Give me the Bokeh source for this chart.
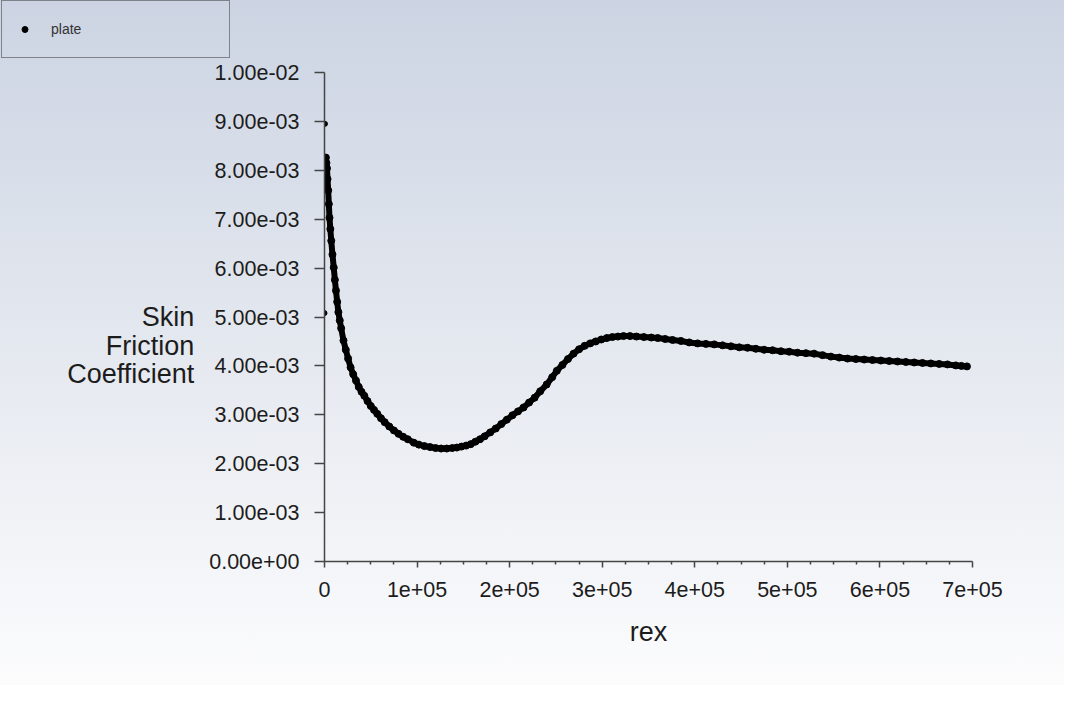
from bokeh.plotting import figure
from bokeh.layouts import column
from bokeh.models import Range1d, FixedTicker, Legend, LegendItem
from bokeh.embed import file_html
from bokeh.resources import INLINE

# ---- data ----
# isolated leading-edge points
edge_rex = [0, 500]
edge_cf = [0.00508, 0.00895]

# main curve: skin friction coefficient vs rex
rex = [1500, 2100, 2700, 3300, 4000, 4700, 5400, 6300, 7300, 8600,
       10000, 11200, 12400, 13700, 15000, 16500, 18000, 20500, 23000, 25500,
       28200, 31000, 34000, 37000, 40000, 43000, 46500, 50000, 53500, 57000,
       61000, 65000, 70000, 75000, 80000, 85000, 90000, 96500, 102000, 108000,
       114000, 120000, 126000, 132000, 138000, 143000, 148000, 153000, 158000, 163000,
       168000, 173000, 179000, 185000, 191000, 197000, 203000, 209000, 215000, 221000,
       227000, 233000, 240000, 246000, 251000, 257000, 263000, 269000, 275000, 281000,
       287000, 293000, 299000, 305000, 311000, 317000, 323000, 330000, 337000, 345000,
       353000, 360000, 368000, 376000, 385000, 394000, 403000, 412000, 421000, 430000,
       439000, 448000, 457000, 466000, 475000, 484000, 493000, 502000, 511000, 520000,
       529000, 538000, 547000, 556000, 565000, 574000, 583000, 592000, 601000, 610000,
       619000, 628000, 637000, 646000, 655000, 664000, 673000, 682000, 688000, 694000]
cf = [0.00826, 0.00815, 0.00804, 0.00782, 0.00759, 0.00731, 0.00703, 0.00680, 0.00656, 0.00628,
      0.00601, 0.00576, 0.00554, 0.00531, 0.00510, 0.00493, 0.00477, 0.00452, 0.00433, 0.00415,
      0.00397, 0.00383, 0.00370, 0.00357, 0.00347, 0.00339, 0.00328, 0.00318, 0.00310, 0.00302,
      0.00293, 0.00285, 0.00276, 0.00268, 0.00261, 0.00255, 0.00250, 0.00243, 0.00239, 0.00236,
      0.00234, 0.00232, 0.00231, 0.00231, 0.00232, 0.00233, 0.00235, 0.00237, 0.00240, 0.00245,
      0.00250, 0.00256, 0.00264, 0.00272, 0.00281, 0.00290, 0.00299, 0.00307, 0.00315, 0.00325,
      0.00335, 0.00348, 0.00362, 0.00377, 0.00390, 0.00402, 0.00414, 0.00425, 0.00434, 0.00441,
      0.00446, 0.00450, 0.00454, 0.00457, 0.00459, 0.00460, 0.00461, 0.00461, 0.00460, 0.00459,
      0.00458, 0.00457, 0.00455, 0.00453, 0.00451, 0.00448, 0.00446, 0.00445, 0.00444, 0.00442,
      0.00440, 0.00438, 0.00437, 0.00435, 0.00433, 0.00432, 0.00430, 0.00429, 0.00427, 0.00426,
      0.00425, 0.00422, 0.00419, 0.00417, 0.00415, 0.00414, 0.00413, 0.00412, 0.00411, 0.00410,
      0.00409, 0.00408, 0.00407, 0.00406, 0.00405, 0.00404, 0.00403, 0.00401, 0.00400, 0.00399]

series_name = "plate"
x_label = "rex"
y_label = "\n\nSkin\nFriction\nCoefficient"

x_ticks = [0, 100000, 200000, 300000, 400000, 500000, 600000, 700000]
x_tick_labels = ["0", "1e+05", "2e+05", "3e+05", "4e+05", "5e+05", "6e+05", "7e+05"]
y_ticks = [0.0, 0.001, 0.002, 0.003, 0.004, 0.005, 0.006, 0.007, 0.008, 0.009, 0.01]
y_tick_labels = ["0.00e+00", "1.00e-03", "2.00e-03", "3.00e-03", "4.00e-03", "5.00e-03",
                 "6.00e-03", "7.00e-03", "8.00e-03", "9.00e-03", "1.00e-02"]

FONT = "Liberation Sans"
INK = "#1c1c1c"
AXIS = "#454545"
W = 1064
LEG_H = 60
MAIN_H = 625

# ---- legend strip (top) ----
lg = figure(width=W, height=LEG_H, output_backend="svg", toolbar_location=None,
            x_range=Range1d(0, 1), y_range=Range1d(0, 1),
            x_axis_type=None, y_axis_type=None, min_border=0)
lg.frame_align = False
lg.background_fill_color = None
lg.border_fill_color = None
lg.outline_line_color = None
lg.grid.visible = False
# key renderer: same data, lies outside this strip's ranges so only its legend key shows
r_key = lg.scatter(rex, cf, size=6, marker="circle", fill_color="black", line_color="black")
legend = Legend(items=[LegendItem(label=series_name, renderers=[r_key])],
                location=(1, 2), margin=0, padding=15,
                glyph_width=15, glyph_height=26, label_height=26, label_width=163,
                label_standoff=19, label_text_font=FONT, label_text_font_size="14px",
                label_text_color="#333333", border_line_color="#2e2e2e", border_line_width=1.5,
                background_fill_alpha=0)
lg.add_layout(legend)

# ---- main plot ----
p = figure(width=W, height=MAIN_H, output_backend="svg", toolbar_location=None,
           x_range=Range1d(0, 700000), y_range=Range1d(0, 0.01),
           min_border_left=324, min_border_right=92, min_border_top=12, min_border_bottom=124)
p.frame_align = False
p.background_fill_color = None
p.border_fill_color = None
p.outline_line_color = None
p.grid.visible = False

p.line(rex, cf, line_color="black", line_width=6)
p.scatter(rex, cf, size=7, marker="circle", fill_color="black", line_color="black")
p.scatter(edge_rex, edge_cf, size=5, marker="circle", fill_color="black", line_color="black")

# x axis
minor = [t + k * 25000 for t in x_ticks[:-1] for k in (1, 2, 3)]
p.xaxis.ticker = FixedTicker(ticks=x_ticks, minor_ticks=minor)
p.xaxis.major_label_overrides = dict(zip(x_ticks, x_tick_labels))
p.xaxis.axis_label = x_label
p.xaxis.axis_label_standoff = 17
p.xaxis.major_tick_out = 6
p.xaxis.major_tick_in = 0
p.xaxis.minor_tick_out = 3
p.xaxis.minor_tick_in = 0
p.xaxis.major_label_standoff = 14

# y axis
p.yaxis.ticker = FixedTicker(ticks=y_ticks, minor_ticks=[])
p.yaxis.major_label_overrides = dict(zip(y_ticks, y_tick_labels))
p.yaxis.axis_label = y_label
p.yaxis.axis_label_orientation = "horizontal"
p.yaxis.axis_label_text_align = "right"
p.yaxis.axis_label_standoff = 12
p.yaxis.major_tick_out = 10
p.yaxis.major_tick_in = 0
p.yaxis.minor_tick_out = 0
p.yaxis.minor_tick_in = 0
p.yaxis.major_label_standoff = 15

for ax in (p.xaxis, p.yaxis):
    ax.axis_line_color = AXIS
    ax.axis_line_width = 1.5
    ax.major_tick_line_color = AXIS
    ax.major_tick_line_width = 1.5
    ax.minor_tick_line_color = AXIS
    ax.minor_tick_line_width = 1.5
    ax.major_label_text_font = FONT
    ax.major_label_text_font_size = "21.5px"
    ax.major_label_text_color = INK
    ax.axis_label_text_font = FONT
    ax.axis_label_text_font_size = "27px"
    ax.axis_label_text_font_style = "normal"
    ax.axis_label_text_color = INK
p.yaxis.axis_label_text_line_height = 0.95

page = column(lg, p, spacing=0)
page.styles = {"background": "linear-gradient(180deg, #ccd4e3 0%, #e4e8ef 50%, #fcfcfd 100%)"}

open("out.html", "w").write(file_html(page, INLINE))
